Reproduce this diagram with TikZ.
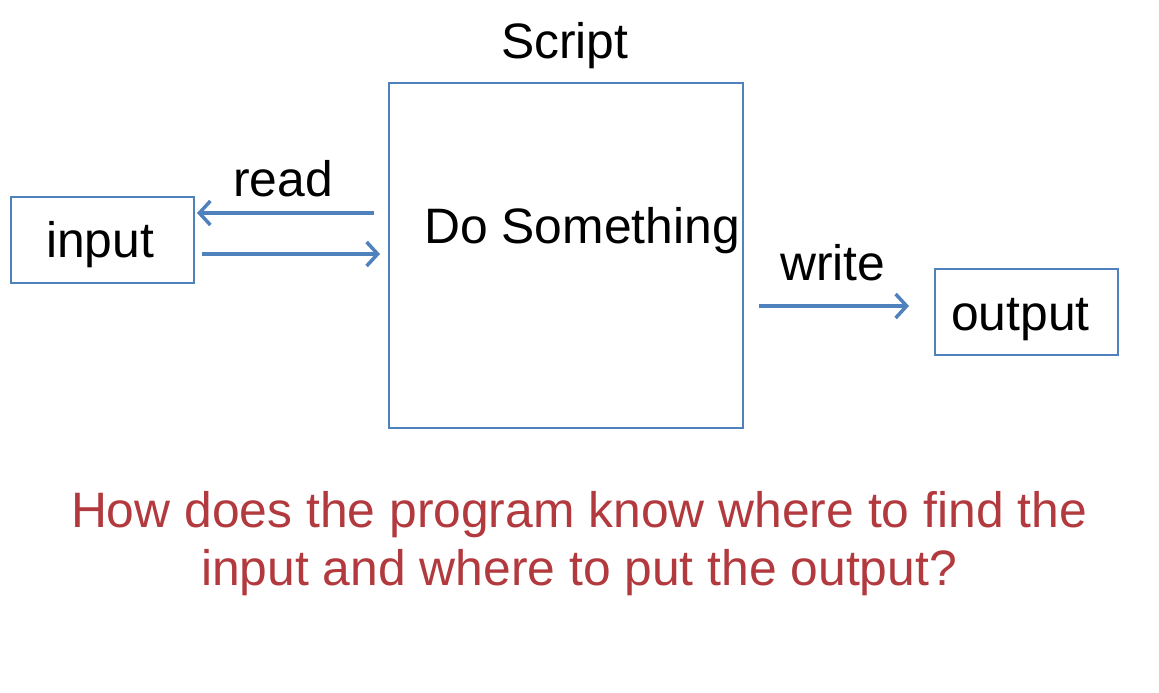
\documentclass[tikz,border=0pt]{standalone}
\usepackage{fontspec}
\setmainfont{Liberation Sans}
\usetikzlibrary{arrows.meta}
\definecolor{boxblue}{RGB}{79,129,189}
\definecolor{qred}{RGB}{178,58,62}
\begin{document}
\begin{tikzpicture}[x=1pt,y=-1pt,
  box/.style={draw=boxblue,line width=1.3pt,inner sep=0pt},
  lbl/.style={anchor=base west,inner sep=0pt,font=\fontsize{49.8}{58}\selectfont},
  flow/.style={draw=boxblue,line width=3.5pt,-{Straight Barb[length=11pt,width=24pt,line width=3.5pt]}}]
\useasboundingbox (0,0) rectangle (1159,693);
% boxes
\node[box,minimum width=183pt,minimum height=86pt] (input) at (102.5,240) {};
\node[box,minimum width=354pt,minimum height=345pt] (script) at (566,255.5) {};
\node[box,minimum width=183pt,minimum height=86pt] (output) at (1026.5,312) {};
% texts
\node[lbl] (tin) at (46,257) {input};
\node[lbl] (tout) at (951,330) {output};
\node[lbl] (tdo) at (424,243) {Do Something};
\node[lbl] (tscript) at (501,59) {Script};
\node[lbl] (tread) at (233,196) {read};
\node[lbl] (twrite) at (780,280) {write};
% connectors
\coordinate (r1) at (374,213);
\coordinate (r2) at (197,213);
\coordinate (s1) at (202,254);
\coordinate (s2) at (380,254);
\coordinate (w1) at (759,306);
\coordinate (w2) at (909,306);
\draw[flow] (r1) -- (r2);
\draw[flow] (s1) -- (s2);
\draw[flow] (w1) -- (w2);
% question
\node[align=center,text=qred,inner sep=0pt,anchor=base,font=\fontsize{49.8}{58}\selectfont] (q) at (579,585)
  {How does the program know where to find the\\input and where to put the output?};
\end{tikzpicture}
\end{document}
